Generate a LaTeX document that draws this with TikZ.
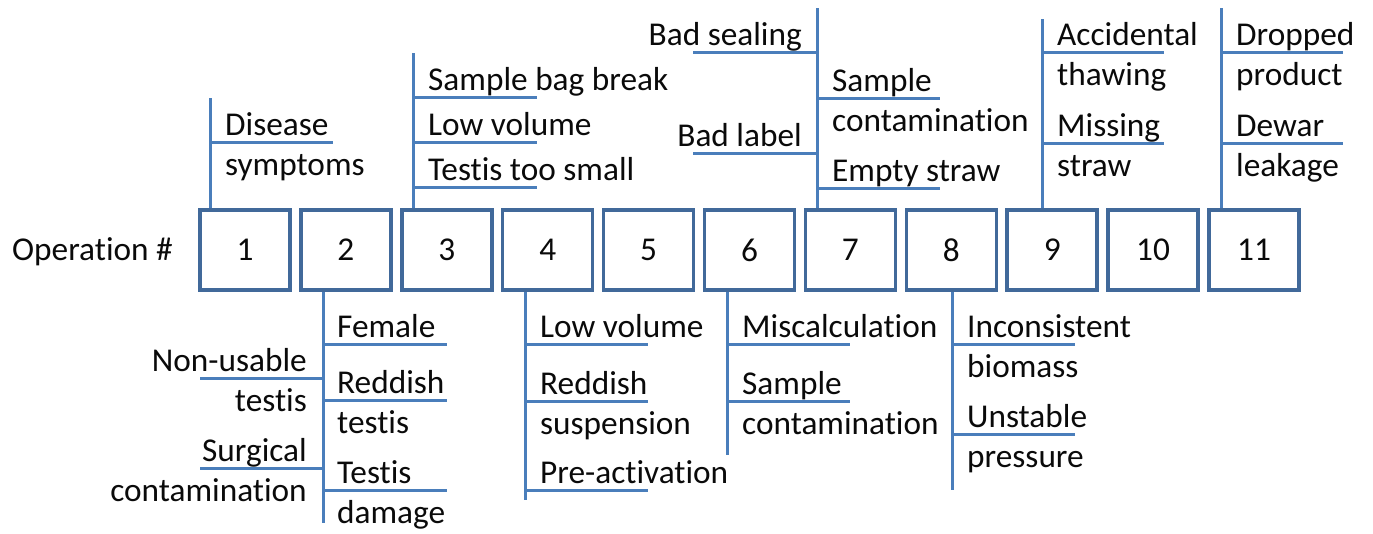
\documentclass[tikz,border=0pt]{standalone}
\usepackage{fontspec}
\setmainfont[Ligatures={NoCommon}]{Carlito}
\definecolor{boxblue}{HTML}{41699A}
\definecolor{lineblue}{HTML}{4A7EBB}
\definecolor{ink}{HTML}{0A0A0A}
\begin{document}
\begin{tikzpicture}[x=1pt,y=-1pt,
  every node/.style={font=\fontsize{33.3}{40}\selectfont, text=ink},
  box/.style={draw=boxblue, line width=3.5pt, minimum width=90pt, minimum height=80pt, inner sep=0pt},
  bone/.style={draw=lineblue, line width=3pt},
  lab/.style={anchor=base west, inner sep=0pt},
  labr/.style={anchor=base east, inner sep=0pt}]
\useasboundingbox (0,0) rectangle (1373,533);
\foreach \i in {1,...,11} \node[box] (b\i) at ({245+100.9*(\i-1)},250) {\i};
\node[labr] (op) at (173,260) {Operation \#};
% op 1
\coordinate (v1) at (210,98);
\draw[bone] (b1.north -| v1) -- (v1);
\coordinate (h1a) at (333,142);
\draw[bone] (v1 |- h1a) -- (h1a);
\node[lab] (t1a) at (225,135) {Disease};
\node[lab] (t1b) at (225,175) {symptoms};
% op 3
\coordinate (v3) at (413,53);
\draw[bone] (b3.north -| v3) -- (v3);
\coordinate (h3a) at (537,97);
\coordinate (h3b) at (537,142);
\coordinate (h3c) at (537,187);
\foreach \h in {h3a,h3b,h3c} \draw[bone] (v3 |- \h) -- (\h);
\node[lab] (t3a) at (428,90) {Sample bag break};
\node[lab] (t3b) at (428,135) {Low volume};
\node[lab] (t3c) at (428,180) {Testis too small};
% op 7
\coordinate (v7) at (817,8);
\draw[bone] (b7.north -| v7) -- (v7);
\coordinate (h7a) at (693,52);
\coordinate (h7b) at (693,153);
\coordinate (h7c) at (940,98);
\coordinate (h7d) at (940,188);
\foreach \h in {h7a,h7b,h7c,h7d} \draw[bone] (v7 |- \h) -- (\h);
\node[labr] (t7a) at (802,45) {Bad sealing};
\node[labr] (t7b) at (802,146) {Bad label};
\node[lab] (t7c) at (832,91) {Sample};
\node[lab] (t7d) at (832,131) {contamination};
\node[lab] (t7e) at (832,181) {Empty straw};
% op 9
\coordinate (v9) at (1042,19);
\draw[bone] (b9.north -| v9) -- (v9);
\coordinate (h9a) at (1164,52);
\coordinate (h9b) at (1164,143);
\foreach \h in {h9a,h9b} \draw[bone] (v9 |- \h) -- (\h);
\node[lab] (t9a) at (1057,45) {Accidental};
\node[lab] (t9b) at (1057,85) {thawing};
\node[lab] (t9c) at (1057,136) {Missing};
\node[lab] (t9d) at (1057,176) {straw};
% op 11
\coordinate (v11) at (1221,8);
\draw[bone] (b11.north -| v11) -- (v11);
\coordinate (h11a) at (1343,52);
\coordinate (h11b) at (1343,143);
\foreach \h in {h11a,h11b} \draw[bone] (v11 |- \h) -- (\h);
\node[lab] (t11a) at (1236,45) {Dropped};
\node[lab] (t11b) at (1236,85) {product};
\node[lab] (t11c) at (1236,136) {Dewar};
\node[lab] (t11d) at (1236,176) {leakage};
% op 2
\coordinate (v2) at (323,523);
\draw[bone] (b2.south -| v2) -- (v2);
\coordinate (h2a) at (447,344);
\coordinate (h2b) at (447,400);
\coordinate (h2c) at (447,490);
\coordinate (h2d) at (200,378);
\coordinate (h2e) at (200,468);
\foreach \h in {h2a,h2b,h2c,h2d,h2e} \draw[bone] (v2 |- \h) -- (\h);
\node[lab] (t2a) at (337,337) {Female};
\node[lab] (t2b) at (337,393) {Reddish};
\node[lab] (t2c) at (337,433) {testis};
\node[lab] (t2d) at (337,483) {Testis};
\node[lab] (t2e) at (337,523) {damage};
\node[labr] (t2f) at (307,371) {Non-usable};
\node[labr] (t2g) at (307,411) {testis};
\node[labr] (t2h) at (307,461) {Surgical};
\node[labr] (t2i) at (307,501) {contamination};
% op 4
\coordinate (v4) at (525,500);
\draw[bone] (b4.south -| v4) -- (v4);
\coordinate (h4a) at (648,344);
\coordinate (h4b) at (648,401);
\coordinate (h4c) at (648,490);
\foreach \h in {h4a,h4b,h4c} \draw[bone] (v4 |- \h) -- (\h);
\node[lab] (t4a) at (540,337) {Low volume};
\node[lab] (t4b) at (540,394) {Reddish};
\node[lab] (t4c) at (540,434) {suspension};
\node[lab] (t4d) at (540,483) {Pre-activation};
% op 6
\coordinate (v6) at (727,455);
\draw[bone] (b6.south -| v6) -- (v6);
\coordinate (h6a) at (850,344);
\coordinate (h6b) at (850,401);
\foreach \h in {h6a,h6b} \draw[bone] (v6 |- \h) -- (\h);
\node[lab] (t6a) at (742,337) {Miscalculation};
\node[lab] (t6b) at (742,394) {Sample};
\node[lab] (t6c) at (742,434) {contamination};
% op 8
\coordinate (v8) at (952,490);
\draw[bone] (b8.south -| v8) -- (v8);
\coordinate (h8a) at (1075,344);
\coordinate (h8b) at (1075,434);
\foreach \h in {h8a,h8b} \draw[bone] (v8 |- \h) -- (\h);
\node[lab] (t8a) at (967,337) {Inconsistent};
\node[lab] (t8b) at (967,377) {biomass};
\node[lab] (t8c) at (967,427) {Unstable};
\node[lab] (t8d) at (967,467) {pressure};
\end{tikzpicture}
\end{document}
